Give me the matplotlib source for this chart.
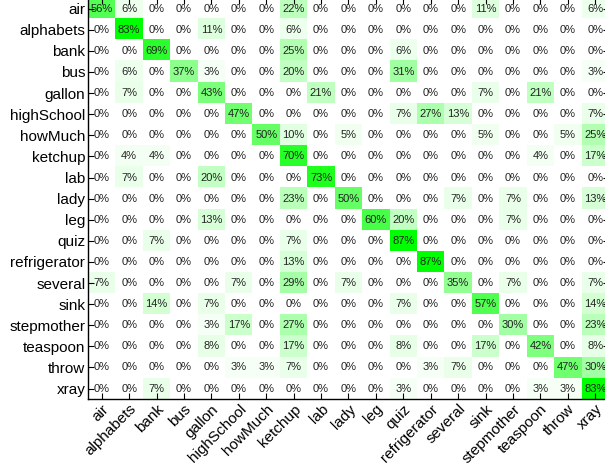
import matplotlib
matplotlib.use("Agg")
import matplotlib.pyplot as plt
import numpy as np
from matplotlib.colors import LinearSegmentedColormap

plt.rcParams['font.family'] = ['Liberation Sans', 'DejaVu Sans']

labels = ["air", "alphabets", "bank", "bus", "gallon", "highSchool", "howMuch",
          "ketchup", "lab", "lady", "leg", "quiz", "refrigerator", "several",
          "sink", "stepmother", "teaspoon", "throw", "xray"]

row_air          = [56, 6, 0, 0, 0, 0, 0, 22, 0, 0, 0, 0, 0, 0, 11, 0, 0, 0, 6]
row_alphabets    = [0, 83, 0, 0, 11, 0, 0, 6, 0, 0, 0, 0, 0, 0, 0, 0, 0, 0, 0]
row_bank         = [0, 0, 69, 0, 0, 0, 0, 25, 0, 0, 0, 6, 0, 0, 0, 0, 0, 0, 0]
row_bus          = [0, 6, 0, 37, 3, 0, 0, 20, 0, 0, 0, 31, 0, 0, 0, 0, 0, 0, 3]
row_gallon       = [0, 7, 0, 0, 43, 0, 0, 0, 21, 0, 0, 0, 0, 0, 7, 0, 21, 0, 0]
row_highSchool   = [0, 0, 0, 0, 0, 47, 0, 0, 0, 0, 0, 7, 27, 13, 0, 0, 0, 0, 7]
row_howMuch      = [0, 0, 0, 0, 0, 0, 50, 10, 0, 5, 0, 0, 0, 0, 5, 0, 0, 5, 25]
row_ketchup      = [0, 4, 4, 0, 0, 0, 0, 70, 0, 0, 0, 0, 0, 0, 0, 0, 4, 0, 17]
row_lab          = [0, 7, 0, 0, 20, 0, 0, 0, 73, 0, 0, 0, 0, 0, 0, 0, 0, 0, 0]
row_lady         = [0, 0, 0, 0, 0, 0, 0, 23, 0, 50, 0, 0, 0, 7, 0, 7, 0, 0, 13]
row_leg          = [0, 0, 0, 0, 13, 0, 0, 0, 0, 0, 60, 20, 0, 0, 0, 7, 0, 0, 0]
row_quiz         = [0, 0, 7, 0, 0, 0, 0, 7, 0, 0, 0, 87, 0, 0, 0, 0, 0, 0, 0]
row_refrigerator = [0, 0, 0, 0, 0, 0, 0, 13, 0, 0, 0, 0, 87, 0, 0, 0, 0, 0, 0]
row_several      = [7, 0, 0, 0, 0, 7, 0, 29, 0, 7, 0, 0, 0, 35, 0, 7, 0, 0, 7]
row_sink         = [0, 0, 14, 0, 7, 0, 0, 0, 0, 0, 0, 7, 0, 0, 57, 0, 0, 0, 14]
row_stepmother   = [0, 0, 0, 0, 3, 17, 0, 27, 0, 0, 0, 0, 0, 0, 0, 30, 0, 0, 23]
row_teaspoon     = [0, 0, 0, 0, 8, 0, 0, 17, 0, 0, 0, 8, 0, 0, 17, 0, 42, 0, 8]
row_throw        = [0, 0, 0, 0, 0, 3, 3, 7, 0, 0, 0, 0, 3, 7, 0, 0, 0, 47, 30]
row_xray         = [0, 0, 7, 0, 0, 0, 0, 0, 0, 0, 0, 3, 0, 0, 0, 0, 3, 3, 83]

matrix = np.array([row_air, row_alphabets, row_bank, row_bus, row_gallon,
                   row_highSchool, row_howMuch, row_ketchup, row_lab, row_lady,
                   row_leg, row_quiz, row_refrigerator, row_several, row_sink,
                   row_stepmother, row_teaspoon, row_throw, row_xray], dtype=float)

cmap = LinearSegmentedColormap.from_list("wg", ["#ffffff", "#00ff00"])

fig = plt.figure(figsize=(6.05, 4.74), dpi=100)
ax = fig.add_axes([0.1455, 0.158, 0.861, 0.846])
ax.imshow(matrix, cmap=cmap, vmin=0, vmax=83, aspect='auto', interpolation='nearest')

n = len(labels)
for i in range(n):
    for j in range(n):
        ax.text(j, i, f"{int(matrix[i, j])}%", ha='center', va='center',
                fontsize=8, color='#222222')

ax.set_xticks(range(n))
ax.set_yticks(range(n))
ax.set_xticklabels(labels, rotation=45, ha='right', rotation_mode='anchor', fontsize=11)
ax.set_yticklabels(labels, fontsize=11)
ax.tick_params(direction='in', top=True, right=True, length=4, width=0.8, pad=2)
for s in ax.spines.values():
    s.set_linewidth(1.0)

fig.savefig("out.png", dpi=100)
